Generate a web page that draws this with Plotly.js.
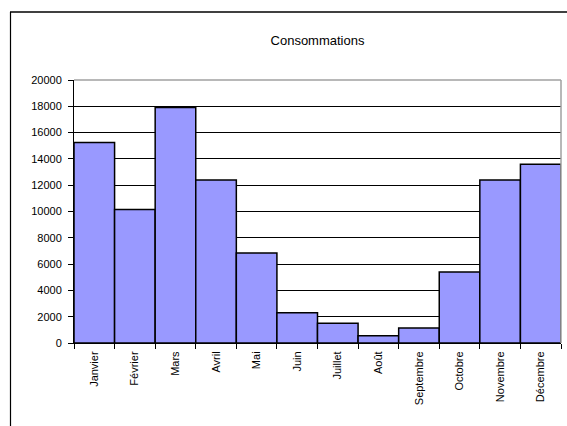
<!DOCTYPE html>
<html>
<head>
<meta charset="utf-8">
<script src="https://cdn.plot.ly/plotly-3.0.1.min.js"></script>
<style>html,body{margin:0;padding:0;background:#fff;}#chart{width:567px;height:426px;}</style>
</head>
<body>
<div id="chart"></div>
<script>
const months = ["Janvier","Février","Mars","Avril","Mai","Juin","Juillet","Août","Septembre","Octobre","Novembre","Décembre"];
const consommations = [15250, 10150, 17900, 12400, 6850, 2300, 1500, 550, 1150, 5400, 12400, 13600];
const yTicks = [0,2000,4000,6000,8000,10000,12000,14000,16000,18000,20000];

const W = 567, H = 426;
const m = {l: 74, r: 6, t: 80, b: 83};
const pw = W - m.l - m.r, ph = H - m.t - m.b;
const px = v => (v - m.l) / pw;
const py = v => 1 - (v - m.t) / ph;

const trace = {
  type: 'bar',
  x: months,
  y: consommations,
  marker: {color: '#9999FF', line: {color: '#000', width: 1.5}},
  hoverinfo: 'x+y'
};

const layout = {
  width: W, height: H,
  margin: m,
  paper_bgcolor: '#fff',
  plot_bgcolor: '#fff',
  showlegend: false,
  bargap: 0,
  font: {family: 'Liberation Sans, Arial, sans-serif', size: 11, color: '#000'},
  title: {text: 'Consommations', font: {size: 13, color: '#000'}, x: 0.5, xref: 'paper', y: 1 - 40/H, yanchor: 'middle'},
  xaxis: {
    type: 'category',
    tickson: 'boundaries',
    ticks: 'outside', ticklen: 5, tickcolor: '#000', tickwidth: 1,
    tickangle: -90,
    showline: true, linecolor: '#000', linewidth: 1,
    showgrid: false,
    ticklabelstandoff: 3,
    fixedrange: true
  },
  yaxis: {
    range: [0, 20000],
    tickvals: yTicks,
    tickformat: 'd',
    ticks: 'outside', ticklen: 5, tickcolor: '#000', tickwidth: 1,
    showline: true, linecolor: '#000', linewidth: 1,
    showgrid: true, gridcolor: '#000', gridwidth: 1,
    zeroline: false,
    ticklabelstandoff: 4,
    fixedrange: true
  },
  shapes: [
    {type: 'line', xref: 'paper', yref: 'paper', x0: 0, x1: 1, y0: 1, y1: 1, line: {color: '#a0a0a0', width: 1.5}},
    {type: 'line', xref: 'paper', yref: 'paper', x0: 1, x1: 1, y0: 0, y1: 1, line: {color: '#a0a0a0', width: 1.5}},
    {type: 'line', xref: 'paper', yref: 'paper', x0: px(10.5), x1: px(10.5), y0: py(12), y1: py(430), line: {color: '#000', width: 1.2}},
    {type: 'line', xref: 'paper', yref: 'paper', x0: px(10), x1: px(570), y0: py(12), y1: py(12), line: {color: '#000', width: 1.5}}
  ]
};

Plotly.newPlot('chart', [trace], layout, {displayModeBar: false, staticPlot: true});
</script>
</body>
</html>
